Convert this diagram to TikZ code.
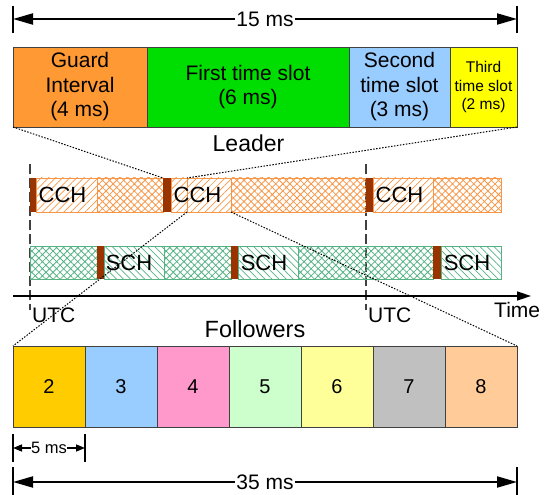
\documentclass[tikz,border=0pt]{standalone}
\usepackage{fontspec}
\setmainfont{Liberation Sans}
\usetikzlibrary{arrows.meta,patterns.meta}
\definecolor{gorange}{HTML}{FF9933}
\definecolor{ggreen}{HTML}{00DD00}
\definecolor{gblue}{HTML}{99CCFF}
\definecolor{gyellow}{HTML}{FFFF00}
\definecolor{bgray}{HTML}{404040}
\definecolor{cor}{HTML}{F79646}
\definecolor{sgr}{HTML}{55B283}
\definecolor{barc}{HTML}{993300}
\definecolor{fa}{HTML}{FFCC00}
\definecolor{fb}{HTML}{99CCFF}
\definecolor{fc}{HTML}{FF99CC}
\definecolor{fd}{HTML}{CCFFCC}
\definecolor{fe}{HTML}{FFFF99}
\definecolor{ff}{HTML}{C0C0C0}
\definecolor{fg}{HTML}{FFCC99}
\begin{document}
\begin{tikzpicture}[x=1pt,y=-1pt,
  tbox/.style={draw=bgray, line width=0.8pt, inner sep=0pt, outer sep=0pt, anchor=north west,
    minimum height=80pt, align=center, font=\fontsize{21}{24.5}\selectfont},
  seg/.style={inner sep=0pt, outer sep=0pt, anchor=north west, minimum height=34pt},
  sseg/.style={inner sep=0pt, outer sep=0pt, anchor=north west, minimum height=33pt},
  cchh/.style={seg, draw=cor, line width=0.8pt, pattern={Lines[angle=45,distance=5pt,line width=0.7pt]}, pattern color=cor},
  cchx/.style={seg, draw=cor, line width=0.8pt, pattern={Hatch[angle=45,distance=5pt,line width=0.8pt]}, pattern color=cor},
  schh/.style={sseg, draw=sgr, line width=0.8pt, pattern={Lines[angle=-45,distance=5pt,line width=0.7pt]}, pattern color=sgr},
  schx/.style={sseg, draw=sgr, line width=0.8pt, pattern={Hatch[angle=45,distance=5pt,line width=0.8pt]}, pattern color=sgr},
  barn/.style={seg, fill=barc},
  sbarn/.style={sseg, fill=barc},
  chtext/.style={inner sep=0pt, font=\fontsize{22}{24}\selectfont},
  lbl/.style={inner sep=0pt, font=\fontsize{21}{24}\selectfont},
  fbox/.style={draw=bgray, line width=0.8pt, inner sep=0pt, outer sep=0pt, anchor=north west,
    minimum height=81pt, minimum width=72pt, font=\fontsize{20}{22}\selectfont},
  tick/.style={line width=1.4pt, black},
  bigarrow/.style={{Triangle[length=20pt,width=11pt]}-{Triangle[length=20pt,width=11pt]}, line width=2pt},
  smallarrow/.style={{Triangle[length=9pt,width=7pt]}-{Triangle[length=9pt,width=7pt]}, line width=1.5pt},
  dimlabel/.style={fill=white, inner sep=1pt, font=\fontsize{21}{24}\selectfont},
  utcline/.style={draw=bgray, line width=1.2pt, dash pattern=on 10pt off 4pt},
  dotline/.style={black, line width=1pt, dash pattern=on 1.5pt off 1.5pt}
]
\useasboundingbox (0,0) rectangle (550,495);

% 15 ms dimension
\coordinate (t15a) at (13,6); \coordinate (t15b) at (13,33);
\coordinate (t15c) at (517,6); \coordinate (t15d) at (517,33);
\coordinate (a15l) at (13,19); \coordinate (a15r) at (517,19);
\draw[tick] (t15a) -- (t15b);
\draw[tick] (t15c) -- (t15d);
\draw[bigarrow] (a15l) -- node[dimlabel] (l15) {15 ms} (a15r);

% top boxes
\node[tbox, fill=gorange, minimum width=134pt] (G) at (13,47) {Guard\\Interval\\(4 ms)};
\node[tbox, fill=ggreen, minimum width=202pt] (F) at (147,47) {First time slot\\(6 ms)};
\node[tbox, fill=gblue, minimum width=101pt] (S) at (349,47) {Second\\time slot\\(3 ms)};
\node[tbox, fill=gyellow, minimum width=67pt, font=\fontsize{15.5}{18.5}\selectfont] (T) at (450,47) {Third\\time slot\\(2 ms)};

\node[lbl, anchor=base, font=\fontsize{23}{26}\selectfont] (leader) at (248.5,152) {Leader};

% UTC lines
\coordinate (u1t) at (30,164); \coordinate (u1b) at (30,310);
\coordinate (u2t) at (366,164); \coordinate (u2b) at (366,310);
\draw[utcline] (u1t) -- (u1b);
\draw[utcline] (u2t) -- (u2b);

% leader row (CCH)
\node[cchh, minimum width=61pt] (lh1) at (36,178) {};
\node[cchx, minimum width=66pt] (lx1) at (97,178) {};
\node[cchh, minimum width=60pt] (lh2) at (171,178) {};
\node[seg, draw=cor, line width=0.8pt, minimum width=44pt] (zm) at (187,178) {};
\node[cchx, minimum width=135pt] (lx2) at (231,178) {};
\node[cchh, minimum width=60pt] (lh3) at (373,178) {};
\node[cchx, minimum width=68pt] (lx3) at (433,178) {};
\node[barn, minimum width=6pt] (lb1) at (30,178) {};
\node[barn, minimum width=8pt] (lb2) at (163,178) {};
\node[barn, minimum width=7pt] (lb3) at (366,178) {};
\node[chtext] (c1) at (62.5,195) {CCH};
\node[chtext] (c2) at (197.5,195) {CCH};
\node[chtext] (c3) at (399.5,195) {CCH};

% follower row (SCH)
\node[schx, minimum width=67pt] (sx1) at (30,246) {};
\node[schh, minimum width=60pt] (sh1) at (104,246) {};
\node[schx, minimum width=67pt] (sx2) at (164,246) {};
\node[schh, minimum width=60pt] (sh2) at (238,246) {};
\node[schx, minimum width=135pt] (sx3) at (298,246) {};
\node[schh, minimum width=60pt] (sh3) at (441,246) {};
\node[sbarn, minimum width=7pt] (sb1) at (97,246) {};
\node[sbarn, minimum width=7pt] (sb2) at (231,246) {};
\node[sbarn, minimum width=8pt] (sb3) at (433,246) {};
\node[chtext] (s1) at (129,262.5) {SCH};
\node[chtext] (s2) at (264,262.5) {SCH};
\node[chtext] (s3) at (467,262.5) {SCH};

% time axis
\coordinate (ax0) at (13,296); \coordinate (ax1) at (531,296);
\draw[-{Triangle[length=14pt,width=9pt]}, line width=1.5pt] (ax0) -- (ax1);
\node[lbl, anchor=base west] (utc1) at (32,323) {UTC};
\node[lbl, anchor=base west] (utc2) at (368,323) {UTC};
\node[lbl, anchor=base west] (time) at (494,317) {Time};

\node[lbl, anchor=base, font=\fontsize{23.5}{26}\selectfont] (followers) at (255,337) {Followers};

% followers boxes
\foreach \n/\c [count=\k from 0] in {2/fa,3/fb,4/fc,5/fd,6/fe,7/ff,8/fg}
  \node[fbox, fill=\c] (f\n) at ({13+72*\k},346) {\n};

% dotted zoom lines
\draw[dotline] (G.south west) -- (lb2.north west);
\draw[dotline] (T.south east) -- (zm.north west);
\draw[dotline] (zm.south west) -- (f2.north west);
\draw[dotline] (zm.south east) -- (f8.north east);

% 5 ms dimension
\coordinate (t5a) at (13,434); \coordinate (t5b) at (13,462);
\coordinate (t5c) at (85,434); \coordinate (t5d) at (85,462);
\coordinate (a5l) at (13,448); \coordinate (a5r) at (85,448);
\draw[tick] (t5a) -- (t5b);
\draw[tick] (t5c) -- (t5d);
\draw[smallarrow] (a5l) -- node[dimlabel, font=\fontsize{16.5}{19}\selectfont, inner sep=0.5pt] (l5) {5 ms} (a5r);

% 35 ms dimension
\coordinate (t35a) at (13,467); \coordinate (t35b) at (13,495);
\coordinate (t35c) at (517,467); \coordinate (t35d) at (517,495);
\coordinate (a35l) at (13,482); \coordinate (a35r) at (517,482);
\draw[tick] (t35a) -- (t35b);
\draw[tick] (t35c) -- (t35d);
\draw[bigarrow] (a35l) -- node[dimlabel] (l35) {35 ms} (a35r);
\end{tikzpicture}
\end{document}
